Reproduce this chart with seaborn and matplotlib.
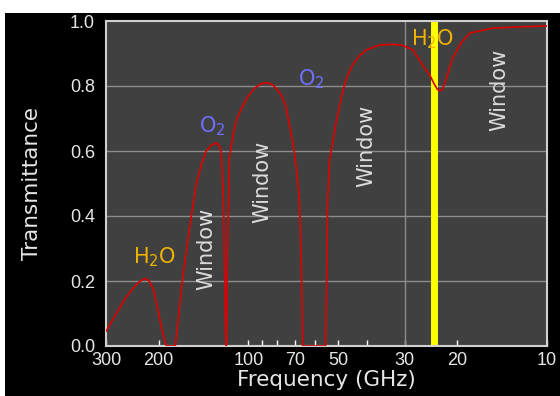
import matplotlib
matplotlib.use('Agg')
import matplotlib.pyplot as plt
from matplotlib.patches import Rectangle
from matplotlib.ticker import FixedLocator, NullFormatter
import pandas as pd
import seaborn as sns

# transmittance curve (frequency in GHz)
freq = [300, 285, 271, 258, 245, 232, 222, 215, 208, 202, 196, 190, 188,
        175.8, 171, 166.5, 161, 155.3, 149.5, 143.5, 138.4, 133, 128.1, 125,
        123.2, 121.3, 120.0, 119.0, 118.5, 117.5, 115.8,
        112, 109.7, 105, 100, 95, 90, 86, 82, 78, 75, 72.9, 70.5, 69, 67.5,
        66.5, 65.8, 55.2, 54.6, 54.3, 53.5, 50.7, 48.4, 46.9, 44.8, 42.5, 40.2,
        36.4, 33.0, 30.7, 28.2, 25.7, 24.7, 24.0, 23.3, 22.9, 22.4, 21.7, 20.7,
        19.3, 18.1, 15.2, 12.3, 10]
trans = [0.045, 0.08, 0.115, 0.148, 0.175, 0.198, 0.208, 0.2, 0.175, 0.12,
         0.06, 0.01, 0.0,
         0.0, 0.1, 0.2, 0.3, 0.4, 0.5, 0.56, 0.6, 0.618, 0.625, 0.615,
         0.59, 0.45, 0.2, 0.0, 0.0, 0.3, 0.58,
         0.66, 0.695, 0.735, 0.77, 0.795, 0.808, 0.81, 0.80, 0.775, 0.74, 0.68,
         0.61, 0.54, 0.45,
         0.25, 0.0, 0.0, 0.25, 0.45, 0.57, 0.695, 0.78, 0.825, 0.865, 0.893,
         0.911, 0.926, 0.928, 0.926, 0.912, 0.855, 0.834, 0.81, 0.79, 0.785,
         0.79, 0.825, 0.886, 0.935, 0.963, 0.978, 0.982, 0.985]

water_line = 23.9
xticks = [300, 200, 100, 70, 50, 30, 20, 10]
xminor = [90, 80, 60, 40]
yticks = [0.0, 0.2, 0.4, 0.6, 0.8, 1.0]

# labels: (text, freq, transmittance, colour)
mol_labels = [('H$_2$O', 206.7, 0.255, '#f0b400'),
              ('O$_2$', 132, 0.658, '#7070ff'),
              ('O$_2$', 61.5, 0.803, '#7070ff'),
              ('H$_2$O', 24.1, 0.926, '#f0b400')]
window_pos = [(138, 0.30), (89.7, 0.505), (40.2, 0.615), (14.4, 0.788)]

df = pd.DataFrame({'Frequency': freq, 'Transmittance': trans})

sns.set_style('dark')
plt.rcParams['font.family'] = ['DejaVu Sans']

fig = plt.figure(figsize=(5.6, 3.96), dpi=100, facecolor='white')
fig.add_artist(Rectangle((5 / 560, 0), 555 / 560, 383 / 396, transform=fig.transFigure,
                         facecolor='black', edgecolor='none', zorder=-10))
ax = fig.add_axes([106 / 560, 50 / 396, 441 / 560, 325 / 396])
ax.set_facecolor('#404040')

ax.axvline(water_line, color='#ffff00', lw=5, zorder=2)
sns.lineplot(data=df, x='Frequency', y='Transmittance', color='#e00000', lw=1.2,
             estimator=None, sort=False, ax=ax, zorder=3)

ax.set_xscale('log')
ax.set_xlim(300, 10)
ax.set_ylim(0, 1.0)
ax.xaxis.set_major_locator(FixedLocator(xticks))
ax.set_xticklabels([str(t) for t in xticks])
ax.xaxis.set_minor_locator(FixedLocator(xminor))
ax.xaxis.set_minor_formatter(NullFormatter())
ax.set_yticks(yticks)
ax.set_yticklabels(['%.1f' % t for t in yticks])

ax.grid(False)
for t in [0.2, 0.4, 0.6, 0.8]:
    ax.axhline(t, color='#8c8c8c', lw=1.0, zorder=1)
ax.axvline(30, color='#8c8c8c', lw=1.0, zorder=1)

for s in ax.spines.values():
    s.set_visible(True)
    s.set_color('#d0d0d0')
    s.set_linewidth(1.5)

ax.tick_params(axis='x', which='both', direction='in', length=4, width=1,
               color='white', labelcolor='#e6e6e6', pad=4, bottom=True)
ax.tick_params(axis='y', length=0, labelcolor='#e6e6e6', pad=8)
for lab in ax.get_xticklabels() + ax.get_yticklabels():
    lab.set_fontfamily('Liberation Sans')
    lab.set_fontsize(13)

ax.set_xlabel('Frequency (GHz)', color='#e6e6e6', fontsize=15.5, labelpad=1)
ax.set_ylabel('Transmittance', color='#e6e6e6', fontsize=15.5, labelpad=20)

for txt, f, t, c in mol_labels:
    ax.text(f, t, txt, color=c, fontsize=15, ha='center', va='baseline', zorder=4)
for f, t in window_pos:
    ax.text(f, t, 'Window', color='#dcdcdc', fontsize=15, rotation=90,
            ha='center', va='center', zorder=4)

fig.savefig('out.png', dpi=100, facecolor=fig.get_facecolor())
